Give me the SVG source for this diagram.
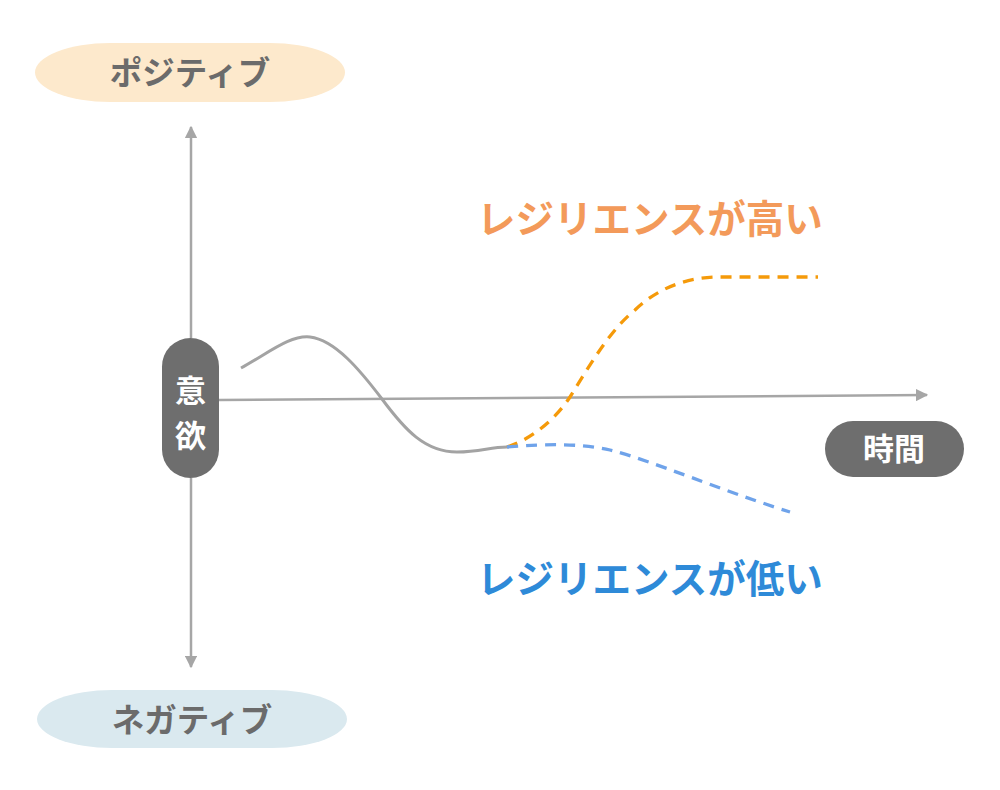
<svg xmlns="http://www.w3.org/2000/svg" width="1000" height="790" viewBox="0 0 1000 790">
<style>
.lbl{font-family:"Noto Sans CJK JP","Noto Sans",sans-serif;font-weight:700}
.axis{stroke:#a6a6a6;stroke-width:2.5;fill:none}
.pilltxt{fill:#6b6b6b;font-size:32.5px}
.wtxt{fill:#ffffff;font-size:31px}
</style>
<defs>
<marker id="ah" viewBox="0 0 10 10" refX="9" refY="5" markerWidth="5" markerHeight="5" orient="auto" markerUnits="strokeWidth">
<path d="M0,0 L10,5 L0,10 z" fill="#a6a6a6"/>
</marker>
</defs>
<rect width="1000" height="790" fill="#ffffff"/>
<g id="connectors">
<line class="axis" x1="191" y1="338" x2="191" y2="127" marker-end="url(#ah)"/>
<line class="axis" x1="191" y1="478" x2="191" y2="667" marker-end="url(#ah)"/>
<line class="axis" x1="219" y1="400" x2="927" y2="395" marker-end="url(#ah)"/>
<path d="M241,368 C270,352 290,335 310,337 C335,340 360,370 382,399 C405,430 425,452 457,452 C480,452 490,447 507,447" stroke="#a3a3a3" stroke-width="3" fill="none"/>
<path d="M507,447 C530,440 555,420 570,397 C590,365 610,330 635,310 C660,286 690,277 720,277 L818,277" stroke="#f59a0a" stroke-width="3.3" fill="none" stroke-dasharray="11,8"/>
<path d="M507,447 C545,444 580,443 610,450 C650,460 720,490 790,512" stroke="#6fa3ea" stroke-width="3.3" fill="none" stroke-dasharray="11,8"/>
</g>
<g id="positive">
<rect x="35" y="43" width="310" height="59" rx="75" ry="29.5" fill="#fde9cc"/>
<text class="lbl pilltxt" x="190" y="84.5" text-anchor="middle">ポジティブ</text>
</g>
<g id="negative">
<rect x="37" y="690" width="310" height="58" rx="75" ry="29" fill="#dae9ef"/>
<text class="lbl pilltxt" x="192" y="731.5" text-anchor="middle">ネガティブ</text>
</g>
<g id="motivation">
<rect x="162" y="338" width="57" height="140" rx="28.5" fill="#6e6e6e"/>
<text class="lbl wtxt" x="190.5" y="402" text-anchor="middle">意</text>
<text class="lbl wtxt" x="190.5" y="447" text-anchor="middle">欲</text>
</g>
<g id="time">
<rect x="825" y="421" width="139" height="56" rx="28" fill="#6e6e6e"/>
<text class="lbl wtxt" x="894" y="460" text-anchor="middle">時間</text>
</g>
<g id="high">
<text class="lbl" x="477" y="233" font-size="38.5" fill="#f39a5a">レジリエンスが高い</text>
</g>
<g id="low">
<text class="lbl" x="477" y="593" font-size="38.5" fill="#2e8ad8">レジリエンスが低い</text>
</g>
</svg>
